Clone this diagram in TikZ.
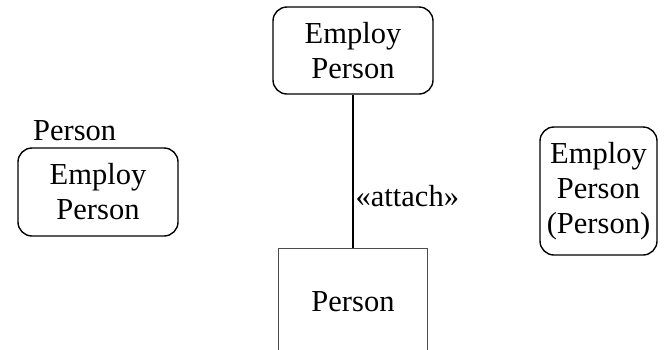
\documentclass[tikz,border=0pt]{standalone}
\usepackage{fontspec}
\setmainfont{Liberation Serif}
\usetikzlibrary{positioning}
\tikzset{
  classbox/.style={draw, rounded corners=14pt, line width=1.4pt, align=center,
    inner sep=0pt, font=\fontsize{30.5}{35}\selectfont},
  plainbox/.style={draw=black!70, line width=0.8pt, inner sep=0pt,
    font=\fontsize{30.5}{35}\selectfont},
  tag/.style={inner sep=2pt, font=\fontsize{30.5}{35}\selectfont}
}
\begin{document}
\begin{tikzpicture}[x=1pt, y=-1pt]
  \useasboundingbox (0,0) rectangle (672,349);
  % the classes
  \node[classbox, minimum width=160pt, minimum height=87pt] (employ) at (353,50.5) {Employ\\Person};
  \node[classbox, minimum width=160pt, minimum height=88pt] (employleft) at (98,192) {Employ\\Person};
  \node[classbox, minimum width=117pt, minimum height=128pt] (employright) at (598.5,191) {Employ\\Person\\(Person)};
  \node[plainbox, minimum width=149pt, minimum height=106pt, anchor=north] (person) at (353,248) {Person};
  % owner of the left one
  \node[tag, inner sep=0pt, anchor=base west] (owner) at (33,140) {Person};
  % attachment
  \draw[line width=1.4pt] (employ) -- (person) node[tag, pos=0.66, right] (attach) {«attach»};
\end{tikzpicture}
\end{document}
